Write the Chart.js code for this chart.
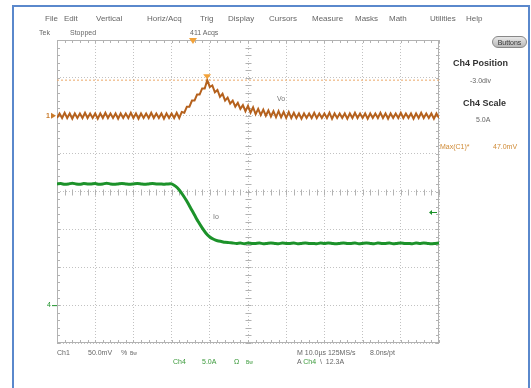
<!DOCTYPE html>
<html>
<head>
<meta charset="utf-8">
<script src="https://cdn.jsdelivr.net/npm/chart.js@4.4.1/dist/chart.umd.min.js"></script>
<style>
body { margin: 0; background: #fff; font-family: "Liberation Sans", Arial, sans-serif; }
#wrap { position: relative; width: 531px; height: 388px; overflow: hidden; background: #fff; }
#frame { position: absolute; left: 12px; top: 5px; width: 518px; height: 400px; border: 2px solid #5a88cc; box-sizing: border-box; }
canvas { position: absolute; left: 0; top: 0; }
.t { position: absolute; font-size: 8px; color: #666; white-space: nowrap; line-height: 10px; }
.s { font-size: 7px; }
.b { font-weight: bold; font-size: 9px; color: #333; }
.g { color: #3b9a3b; }
.o { color: #cf8a35; }
.tiny { font-size: 5px; vertical-align: 3px; }
#btn { position: absolute; left: 492px; top: 36px; width: 35px; height: 12px; border: 1px solid #888; border-radius: 6px;
       background: linear-gradient(#e8e8e8, #b8b8b8); font-size: 7px; color: #333; text-align: center; line-height: 12px; box-sizing: border-box; }
</style>
</head>
<body>
<div id="wrap">
  <canvas id="scope" width="531" height="388"></canvas>
  <div id="frame"></div>

  <div class="t" style="left:45px;top:14px">File</div>
  <div class="t" style="left:64px;top:14px">Edit</div>
  <div class="t" style="left:96px;top:14px">Vertical</div>
  <div class="t" style="left:147px;top:14px">Horiz/Acq</div>
  <div class="t" style="left:200px;top:14px">Trig</div>
  <div class="t" style="left:228px;top:14px">Display</div>
  <div class="t" style="left:269px;top:14px">Cursors</div>
  <div class="t" style="left:312px;top:14px">Measure</div>
  <div class="t" style="left:355px;top:14px">Masks</div>
  <div class="t" style="left:389px;top:14px">Math</div>
  <div class="t" style="left:430px;top:14px">Utilities</div>
  <div class="t" style="left:466px;top:14px">Help</div>

  <div class="t s" style="left:39px;top:28px">Tek</div>
  <div class="t s" style="left:70px;top:28px">Stopped</div>
  <div class="t s" style="left:190px;top:28px">411 Acqs</div>
  <div id="btn">Buttons</div>

  <div class="t b" style="left:453px;top:58px">Ch4 Position</div>
  <div class="t s" style="left:470px;top:76px">-3.0div</div>
  <div class="t b" style="left:463px;top:98px">Ch4 Scale</div>
  <div class="t s" style="left:476px;top:115px">5.0A</div>
  <div class="t s o" style="left:440px;top:142px">Max(C1)*</div>
  <div class="t s o" style="left:493px;top:142px">47.0mV</div>

  <div class="t s" style="left:277px;top:94px;color:#777">Vo</div>
  <div class="t s" style="left:213px;top:212px;color:#777">Io</div>

  <div class="t s" style="left:57px;top:348px">Ch1</div>
  <div class="t s" style="left:88px;top:348px">50.0mV</div>
  <div class="t s" style="left:121px;top:348px">%</div>
  <div class="t s" style="left:130px;top:348px"><span class="tiny">Bw</span></div>
  <div class="t s g" style="left:173px;top:357px">Ch4</div>
  <div class="t s g" style="left:202px;top:357px">5.0A</div>
  <div class="t s g" style="left:234px;top:357px">Ω</div>
  <div class="t s g" style="left:246px;top:357px"><span class="tiny">Bw</span></div>
  <div class="t s" style="left:297px;top:348px">M 10.0µs 125MS/s</div>
  <div class="t s" style="left:370px;top:348px">8.0ns/pt</div>
  <div class="t s" style="left:297px;top:357px">A <span class="g">Ch4</span> &nbsp;\ &nbsp;12.3A</div>
</div>

<script>
// Ch1 (Vo, ripple in mV) - one sample every 2/3 us starting at -50 us
const ch1Start = -50;
const ch1Step = 2 / 3;
const ch1Values = [
    -3, 3, -3, 4, -3, 3, -4, 3, -3, 3,
    -3, 4, -3, 3, -3, 3, -4, 3, -3, 4,
    -3, 3, -3, 3, -4, 3, -3, 3, -3, 4,
    -3, 3, -4, 3, -3, 3, -3, 4, -3, 3,
    -3, 3, -4, 3, -3, 3, -3, 4, -3,
    5, 4, 12, 12, 20, 20, 28, 28, 36, 36, 47,
    38, 40, 31, 34, 25, 29, 20, 24, 16, 20,
    12, 17, 9, 14, 6, 13, 4, 11, 2, 9,
    1, 8, 0, 7, -1, 6, -2, 6, -2, 5,
    -3, 5, -3, 4,
    -3, 3, -4, 3, -3, 3, -3, 4, -3, 3,
    -3, 3, -3, 4, -4, 3, -3, 3, -3, 3,
    -4, 3, -3, 4, -3, 3, -3, 3, -4, 3,
    -3, 3, -3, 4, -3, 3, -4, 3, -3, 3,
    -3, 4, -3, 3, -3, 3, -4, 3, -3, 4,
    -3, 3, -3, 3, -4, 3, -3
];

// Ch4 (Io in A) - one sample every 1 us starting at -50 us
const ch4Start = -50;
const ch4Step = 1;
const ch4Values = [
    16.0, 16.05, 15.95, 16.0, 16.1, 16.0, 15.95, 16.05, 16.0, 16.0,
    16.05, 15.95, 16.0, 16.1, 16.0, 15.95, 16.0, 16.05, 16.0, 15.95,
    16.0, 16.05, 16.0, 15.95, 16.0, 16.05, 16.0, 16.0, 15.95, 16.0,
    16.0, 15.7, 15.2, 14.5, 13.7, 12.8, 11.9, 11.0, 10.2, 9.5,
    9.0, 8.7, 8.5, 8.4, 8.3, 8.25, 8.2,
    8.15, 8.2, 8.1, 8.2, 8.15, 8.15, 8.2, 8.1, 8.15, 8.2,
    8.15, 8.1, 8.2, 8.15, 8.15, 8.2, 8.1, 8.15, 8.2, 8.15,
    8.15, 8.1, 8.2, 8.15, 8.2, 8.15, 8.1, 8.15, 8.2, 8.15,
    8.15, 8.2, 8.1, 8.15, 8.2, 8.15, 8.1, 8.2, 8.15, 8.15,
    8.2, 8.1, 8.15, 8.2, 8.15, 8.15, 8.1, 8.2, 8.15, 8.2,
    8.15, 8.1, 8.15, 8.2
];

const ch1MaxMv = 47.0;     // Max(C1) measurement
const trigLevelA = 12.3;   // A Ch4 \ 12.3A
const trigTimeUs = -14.4;  // trigger position marker
const peakTimeUs = -10.7;  // max marker

// time axis 10us/div, Ch1 50mV/div, Ch4 5A/div at -3.0div
const timeMin = -50, timeMax = 50;
const ch1Min = -300, ch1Max = 100;
const ch4Min = -5, ch4Max = 35;

const ch1Points = ch1Values.map((v, i) => ({ x: ch1Start + i * ch1Step, y: v }));
const ch4Points = ch4Values.map((v, i) => ({ x: ch4Start + i * ch4Step, y: v }));

const ORANGE = '#b5611d';
const GREEN = '#1c922a';
const MARK = '#f2a23a';

// graticule frame + minor ticks on the border and centre lines
const graticule = {
    id: 'graticule',
    beforeDatasetsDraw(chart) {
        const { ctx, chartArea: a, scales } = chart;
        const x = scales.x, y = scales.y1;
        const cx = Math.round(x.getPixelForValue(0)) + 0.5;
        const cy = Math.round(y.getPixelForValue(-100)) + 0.5;
        ctx.save();
        ctx.strokeStyle = '#b2b2b2';
        ctx.lineWidth = 1;
        ctx.strokeRect(a.left + 0.5, a.top + 0.5, a.width - 1, a.height - 1);
        ctx.beginPath();
        for (let t = timeMin; t <= timeMax; t += 2) {
            const px = Math.round(x.getPixelForValue(t)) + 0.5;
            ctx.moveTo(px, cy - 3); ctx.lineTo(px, cy + 3);
            ctx.moveTo(px, a.top); ctx.lineTo(px, a.top + 3);
            ctx.moveTo(px, a.bottom); ctx.lineTo(px, a.bottom - 3);
        }
        for (let v = ch1Min; v <= ch1Max; v += 10) {
            const py = Math.round(y.getPixelForValue(v)) + 0.5;
            ctx.moveTo(cx - 3, py); ctx.lineTo(cx + 3, py);
            ctx.moveTo(a.left, py); ctx.lineTo(a.left + 3, py);
            ctx.moveTo(a.right, py); ctx.lineTo(a.right - 3, py);
        }
        ctx.stroke();
        ctx.restore();
    },
    afterDatasetsDraw(chart) {
        const { ctx, chartArea: a, scales } = chart;
        const x = scales.x, y1 = scales.y1, y4 = scales.y4;
        ctx.save();
        ctx.fillStyle = MARK;
        // trigger position
        let px = x.getPixelForValue(trigTimeUs);
        ctx.beginPath();
        ctx.moveTo(px - 4, a.top - 2); ctx.lineTo(px + 4, a.top - 2); ctx.lineTo(px, a.top + 4);
        ctx.fill();
        // max marker
        px = x.getPixelForValue(peakTimeUs);
        let py = y1.getPixelForValue(ch1MaxMv);
        ctx.beginPath();
        ctx.moveTo(px - 4, py - 6); ctx.lineTo(px + 4, py - 6); ctx.lineTo(px, py - 1);
        ctx.fill();
        // Ch1 ground marker
        py = y1.getPixelForValue(0);
        ctx.fillStyle = '#c97a2a';
        ctx.font = 'bold 7px "Liberation Sans", Arial';
        ctx.textBaseline = 'middle';
        ctx.fillText('1', 46, py);
        ctx.beginPath();
        ctx.moveTo(51, py - 3); ctx.lineTo(56, py); ctx.lineTo(51, py + 3);
        ctx.fill();
        // Ch4 ground marker
        py = y4.getPixelForValue(0);
        ctx.fillStyle = GREEN;
        ctx.strokeStyle = GREEN;
        ctx.font = '7px "Liberation Sans", Arial';
        ctx.fillText('4', 47, py);
        ctx.beginPath();
        ctx.moveTo(52, py + 0.5); ctx.lineTo(57, py + 0.5);
        ctx.stroke();
        // trigger level
        py = Math.round(y4.getPixelForValue(trigLevelA)) + 0.5;
        ctx.beginPath();
        ctx.moveTo(a.right - 9, py); ctx.lineTo(a.right - 2, py);
        ctx.stroke();
        ctx.beginPath();
        ctx.moveTo(a.right - 10, py); ctx.lineTo(a.right - 7, py - 2.5); ctx.lineTo(a.right - 7, py + 2.5);
        ctx.fill();
        ctx.restore();
    }
};

const zeroSize = s => { s.width = 0; s.height = 0; };

new Chart(document.getElementById('scope'), {
    type: 'line',
    data: {
        datasets: [
            {
                label: 'Ch1',
                data: ch1Points,
                yAxisID: 'y1',
                borderColor: ORANGE,
                borderWidth: 2,
                pointRadius: 0,
                tension: 0,
                order: 0
            },
            {
                label: 'Ch4',
                data: ch4Points,
                yAxisID: 'y4',
                borderColor: GREEN,
                borderWidth: 3,
                pointRadius: 0,
                tension: 0.2,
                order: 1
            },
            {
                label: 'Max(C1)',
                data: [{ x: timeMin, y: ch1MaxMv }, { x: timeMax, y: ch1MaxMv }],
                yAxisID: 'y1',
                borderColor: '#eba868',
                borderWidth: 1,
                borderDash: [2, 2],
                pointRadius: 0,
                order: 2
            }
        ]
    },
    options: {
        responsive: false,
        animation: false,
        devicePixelRatio: 1,
        layout: { padding: { left: 57, top: 40, right: 92, bottom: 45 } },
        plugins: { legend: { display: false }, tooltip: { enabled: false } },
        scales: {
            x: {
                type: 'linear',
                min: timeMin,
                max: timeMax,
                ticks: { display: false, stepSize: 10 },
                grid: { color: '#c2c2c2', drawTicks: false, lineWidth: 1 },
                border: { display: false, dash: [1, 2] },
                afterFit: zeroSize
            },
            y1: {
                position: 'left',
                min: ch1Min,
                max: ch1Max,
                ticks: { display: false, stepSize: 50 },
                grid: { color: '#c2c2c2', drawTicks: false, lineWidth: 1 },
                border: { display: false, dash: [1, 2] },
                afterFit: zeroSize
            },
            y4: {
                position: 'right',
                min: ch4Min,
                max: ch4Max,
                display: false
            }
        }
    },
    plugins: [graticule]
});
</script>
</body>
</html>
